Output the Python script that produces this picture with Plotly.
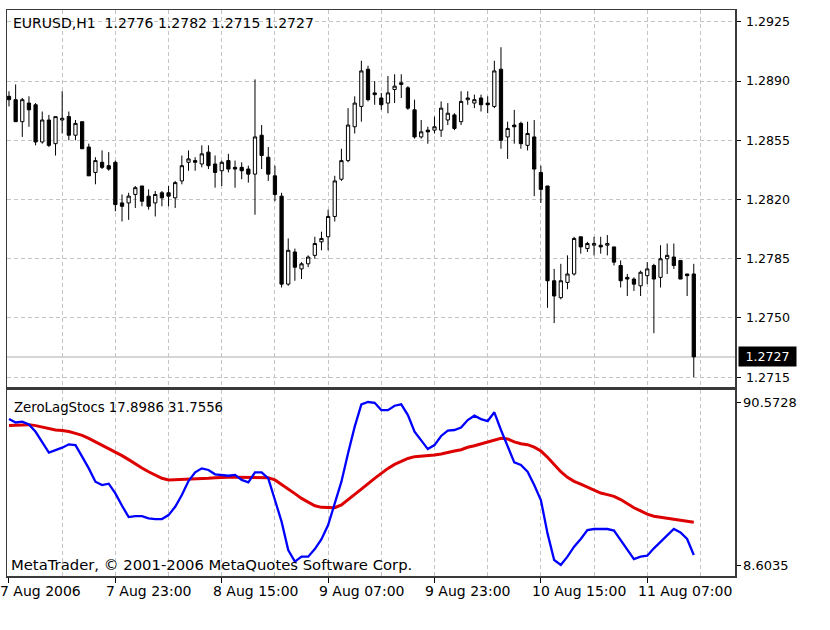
import plotly.graph_objects as go
import pandas as pd

# ---------------- data ----------------
times = pd.date_range("2006-08-07 07:00", periods=104, freq="h")

opens = [1.2881, 1.2879, 1.2866, 1.2877, 1.2876, 1.2854, 1.2867, 1.2853, 1.2867, 1.2869,
         1.2858, 1.2866, 1.2851, 1.2836, 1.2842, 1.2840, 1.2842, 1.2818, 1.2818, 1.2823,
         1.2828, 1.2822, 1.2818, 1.2824, 1.2824, 1.2821, 1.2831, 1.2842, 1.2843, 1.2841,
         1.2848, 1.2841, 1.2837, 1.2843, 1.2839, 1.2839, 1.2838, 1.2835, 1.2858, 1.2845,
         1.2834, 1.2822, 1.2770, 1.2789, 1.2779, 1.2782, 1.2787, 1.2795, 1.2798, 1.2810,
         1.2832, 1.2843, 1.2863, 1.2875, 1.2897, 1.2883, 1.2880, 1.2877, 1.2885, 1.2888,
         1.2886, 1.2873, 1.2857, 1.2861, 1.2861, 1.2861, 1.2867, 1.2870, 1.2866, 1.2879,
         1.2877, 1.2880, 1.2877, 1.2875, 1.2897, 1.2857, 1.2864, 1.2865, 1.2852, 1.2857,
         1.2836, 1.2828, 1.2772, 1.2762, 1.2771, 1.2776, 1.2798, 1.2791, 1.2793, 1.2793,
         1.2793, 1.2792, 1.2781, 1.2774, 1.2773, 1.2769, 1.2775, 1.2781, 1.2774, 1.2785,
         1.2786, 1.2784, 1.2776, 1.2776]
highs = [1.2884, 1.2888, 1.2880, 1.2881, 1.2877, 1.2872, 1.2870, 1.2869, 1.2884, 1.2872,
         1.2867, 1.2866, 1.2853, 1.2845, 1.2849, 1.2848, 1.2843, 1.2823, 1.2824, 1.2828,
         1.2828, 1.2826, 1.2825, 1.2825, 1.2828, 1.2831, 1.2846, 1.2849, 1.2845, 1.2852,
         1.2852, 1.2846, 1.2843, 1.2847, 1.2843, 1.2842, 1.2840, 1.2891, 1.2864, 1.2851,
         1.2840, 1.2824, 1.2797, 1.2791, 1.2783, 1.2787, 1.2798, 1.2801, 1.2814, 1.2834,
         1.2850, 1.2874, 1.2881, 1.2902, 1.2899, 1.2890, 1.2883, 1.2893, 1.2894, 1.2894,
         1.2887, 1.2879, 1.2867, 1.2863, 1.2869, 1.2878, 1.2877, 1.2871, 1.2884, 1.2884,
         1.2882, 1.2882, 1.2881, 1.2902, 1.2910, 1.2866, 1.2873, 1.2866, 1.2866, 1.2867,
         1.2840, 1.2828, 1.2779, 1.2782, 1.2787, 1.2798, 1.2798, 1.2795, 1.2798, 1.2798,
         1.2799, 1.2792, 1.2784, 1.2776, 1.2774, 1.2778, 1.2783, 1.2782, 1.2793, 1.2794,
         1.2794, 1.2784, 1.2776, 1.2782]
lows = [1.2875, 1.2866, 1.2857, 1.2863, 1.2852, 1.2853, 1.2851, 1.2846, 1.2859, 1.2855,
        1.2855, 1.2850, 1.2834, 1.2829, 1.2838, 1.2837, 1.2813, 1.2807, 1.2808, 1.2815,
        1.2816, 1.2814, 1.2810, 1.2816, 1.2816, 1.2815, 1.2829, 1.2837, 1.2837, 1.2839,
        1.2838, 1.2827, 1.2828, 1.2836, 1.2827, 1.2832, 1.2830, 1.2811, 1.2838, 1.2831,
        1.2819, 1.2768, 1.2769, 1.2772, 1.2773, 1.2780, 1.2785, 1.2790, 1.2790, 1.2807,
        1.2831, 1.2842, 1.2859, 1.2866, 1.2878, 1.2876, 1.2873, 1.2871, 1.2877, 1.2880,
        1.2873, 1.2856, 1.2856, 1.2853, 1.2859, 1.2857, 1.2864, 1.2861, 1.2864, 1.2876,
        1.2874, 1.2872, 1.2871, 1.2874, 1.2850, 1.2844, 1.2853, 1.2850, 1.2849, 1.2822,
        1.2818, 1.2756, 1.2747, 1.2761, 1.2767, 1.2775, 1.2788, 1.2789, 1.2787, 1.2788,
        1.2787, 1.2781, 1.2768, 1.2763, 1.2766, 1.2763, 1.2770, 1.2741, 1.2768, 1.2776,
        1.2779, 1.2773, 1.2763, 1.2715]
closes = [1.2879, 1.2866, 1.2879, 1.2873, 1.2854, 1.2867, 1.2852, 1.2869, 1.2868, 1.2858,
          1.2865, 1.2850, 1.2834, 1.2843, 1.2839, 1.2838, 1.2817, 1.2816, 1.2822, 1.2827,
          1.2819, 1.2816, 1.2823, 1.2821, 1.2822, 1.2830, 1.2840, 1.2844, 1.2842, 1.2847,
          1.2840, 1.2836, 1.2842, 1.2838, 1.2838, 1.2837, 1.2835, 1.2857, 1.2846, 1.2835,
          1.2823, 1.2770, 1.2790, 1.2780, 1.2782, 1.2786, 1.2794, 1.2797, 1.2810, 1.2831,
          1.2843, 1.2864, 1.2877, 1.2896, 1.2879, 1.2882, 1.2876, 1.2883, 1.2887, 1.2889,
          1.2874, 1.2857, 1.2860, 1.2860, 1.2863, 1.2874, 1.2871, 1.2862, 1.2878, 1.2880,
          1.2879, 1.2876, 1.2876, 1.2896, 1.2855, 1.2862, 1.2863, 1.2853, 1.2859, 1.2838,
          1.2826, 1.2772, 1.2763, 1.2772, 1.2776, 1.2797, 1.2792, 1.2794, 1.2794, 1.2792,
          1.2794, 1.2783, 1.2772, 1.2773, 1.2770, 1.2777, 1.2779, 1.2773, 1.2785, 1.2787,
          1.2781, 1.2773, 1.2775, 1.2727]

fast_line = [82.0, 80.3, 80.7, 79.3, 75.6, 70.3, 65.1, 66.4, 67.6, 69.3,
             68.9, 63.1, 57.2, 50.5, 48.8, 49.5, 44.6, 38.4, 32.7, 33.2,
             33.2, 32.1, 31.7, 31.7, 33.7, 37.9, 43.8, 50.8, 55.2, 57.2,
             56.4, 54.2, 53.7, 53.5, 53.9, 51.4, 50.2, 55.2, 55.2, 52.2,
             41.3, 30.4, 16.1, 10.3, 12.8, 12.8, 16.6, 21.6, 28.7, 39.6,
             50.5, 64.8, 78.2, 89.4, 90.57, 90.2, 86.5, 86.5, 88.7, 89.4,
             84.0, 75.6, 71.5, 66.9, 68.9, 73.5, 76.2, 76.5, 77.7, 81.5,
             83.7, 82.0, 81.0, 85.4, 76.5, 68.1, 60.2, 58.9, 55.5, 48.8,
             41.3, 24.5, 11.1, 8.6, 12.8, 17.8, 21.7, 26.2, 26.7, 26.7,
             26.7, 25.9, 21.2, 16.1, 11.6, 12.8, 13.3, 17.0, 20.3, 23.7,
             26.7, 25.0, 21.7, 13.6]
slow_line = [78.8, 79.0, 79.0, 79.2, 78.7, 78.0, 77.3, 76.5, 76.2, 75.7,
             74.8, 73.8, 72.3, 70.6, 68.9, 67.3, 65.6, 63.6, 61.6, 59.4,
             57.4, 55.5, 53.9, 52.2, 51.4, 51.5, 51.5, 51.7, 51.9, 51.9,
             52.2, 52.5, 52.7, 52.7, 52.7, 52.7, 52.7, 52.7, 52.7, 52.5,
             51.4, 49.2, 46.8, 44.5, 42.1, 40.1, 38.4, 37.6, 37.4, 37.4,
             38.8, 41.3, 44.1, 46.8, 49.7, 52.2, 54.7, 57.2, 59.2, 60.9,
             62.2, 63.1, 63.3, 63.6, 63.9, 64.4, 65.3, 65.9, 66.6, 67.8,
             68.6, 69.6, 70.3, 71.5, 72.3, 72.0, 70.5, 69.6, 69.1, 67.9,
             65.9, 62.8, 59.2, 55.5, 52.7, 50.7, 49.3, 47.7, 46.0, 44.8,
             44.0, 43.1, 41.5, 39.4, 37.4, 35.8, 34.2, 33.1, 32.6, 32.2,
             31.9, 31.4, 30.6, 30.1]

price_ticks = [1.2715, 1.2750, 1.2785, 1.2820, 1.2855, 1.2890, 1.2925]
ind_ticks = [8.6035, 90.5728]
label_times = ["2006-08-07 07:00", "2006-08-07 23:00", "2006-08-08 15:00",
               "2006-08-09 07:00", "2006-08-09 23:00", "2006-08-10 15:00",
               "2006-08-11 07:00"]
label_texts = ["7 Aug 2006", "7 Aug 23:00", "8 Aug 15:00", "9 Aug 07:00",
               "9 Aug 23:00", "10 Aug 15:00", "11 Aug 07:00"]
grid_times = list(pd.date_range("2006-08-07 15:00", "2006-08-11 15:00", freq="8h"))

title_text = "EURUSD,H1  1.2776 1.2782 1.2715 1.2727"
ind_text = "ZeroLagStocs 17.8986 31.7556"
copyright_text = "MetaTrader, \u00a9 2001-2006 MetaQuotes Software Corp."

# ---------------- figure ----------------
FONT = "DejaVu Sans"
FRAME = "#3a3a3a"
GRID = "#c4c4c4"
DASH = "4px,3px"

fig = go.Figure()

fig.add_trace(go.Candlestick(
    x=times, open=opens, high=highs, low=lows, close=closes,
    increasing=dict(line=dict(color="black", width=1), fillcolor="white"),
    decreasing=dict(line=dict(color="black", width=1), fillcolor="black"),
    whiskerwidth=0, xaxis="x", yaxis="y", showlegend=False, hoverinfo="skip"))

fig.add_trace(go.Scatter(x=times, y=slow_line, mode="lines",
                         line=dict(color="#dd0000", width=3),
                         xaxis="x2", yaxis="y2", showlegend=False, hoverinfo="skip"))
fig.add_trace(go.Scatter(x=times, y=fast_line, mode="lines",
                         line=dict(color="#0000ff", width=2.3),
                         xaxis="x2", yaxis="y2", showlegend=False, hoverinfo="skip"))

xrange = ["2006-08-07 06:42", "2006-08-11 20:12"]
common_x = dict(range=xrange, showline=True, mirror=True, linecolor=FRAME, linewidth=1.5,
                showgrid=False, zeroline=False, fixedrange=True)

fig.update_layout(
    width=830, height=630,
    margin=dict(l=5, r=95, t=10, b=54),
    paper_bgcolor="white", plot_bgcolor="white",
    font=dict(family=FONT, size=13, color="black"),
    showlegend=False,
    hovermode=False,
    xaxis=dict(**common_x, anchor="y", domain=[0, 1], rangeslider=dict(visible=False),
               tickmode="array", tickvals=[], showticklabels=False, ticks="",
               minor=dict(tickmode="array", tickvals=grid_times, showgrid=True,
                          gridcolor=GRID, griddash=DASH, gridwidth=1, ticks="")),
    xaxis2=dict(**common_x, anchor="y2", domain=[0, 1], matches="x",
                tickmode="array", tickvals=label_times, showticklabels=False,
                ticks="outside", ticklen=5, tickcolor="black",
                minor=dict(tickmode="array", tickvals=grid_times, showgrid=True,
                           gridcolor=GRID, griddash=DASH, gridwidth=1, ticks="")),
    yaxis=dict(domain=[0.3339, 1], side="right", range=[1.27092, 1.2932],
               tickmode="array", tickvals=price_ticks,
               ticktext=[f"{v:.4f}" for v in price_ticks],
               tickfont=dict(size=12.6),
               ticks="outside", ticklen=4, tickcolor="black", ticklabelstandoff=3,
               showgrid=True, gridcolor=GRID, griddash=DASH, gridwidth=1,
               showline=True, mirror=True, linecolor=FRAME, linewidth=1.5,
               zeroline=False, fixedrange=True),
    yaxis2=dict(domain=[0, 0.3286], side="right", range=[3.07, 96.61],
                tickmode="array", tickvals=ind_ticks,
                ticktext=[f"{v:.4f}" for v in ind_ticks],
                tickfont=dict(size=13),
                ticks="outside", ticklen=4, tickcolor="black",
                showgrid=False, showline=True, mirror=True, linecolor=FRAME, linewidth=1.5,
                zeroline=False, fixedrange=True),
)

# current price line
fig.add_hline(y=closes[-1], line=dict(color="#c8c8c8", width=1.5), layer="below")

annotations = [
    dict(text=title_text, xref="paper", yref="paper", x=0, y=1, xanchor="left",
         yanchor="top", xshift=4, yshift=-3, showarrow=False, font=dict(size=14)),
    dict(text=ind_text, xref="paper", yref="paper", x=0, y=0.3286, xanchor="left",
         yanchor="top", xshift=5, yshift=-8, showarrow=False, font=dict(size=13.3)),
    dict(text=copyright_text, xref="paper", yref="paper", x=0, y=0, xanchor="left",
         yanchor="bottom", xshift=2, yshift=1, showarrow=False, font=dict(size=14.8)),
    dict(text=f"{closes[-1]:.4f}", xref="paper", yref="y", x=1, y=closes[-1],
         xanchor="left", yanchor="middle", xshift=3, showarrow=False, width=53,
         bgcolor="black", font=dict(color="white", size=12.6), borderpad=2),
]
for t, s in zip(label_times, label_texts):
    annotations.append(dict(text=s, xref="x2", yref="paper", x=t, y=0,
                            xanchor="left", yanchor="top", xshift=-11, yshift=-5,
                            showarrow=False, font=dict(size=14)))
fig.update_layout(annotations=annotations)

fig.write_html("out.html", config={"displayModeBar": False, "staticPlot": True},
               post_script="document.body.style.margin='0px';")
